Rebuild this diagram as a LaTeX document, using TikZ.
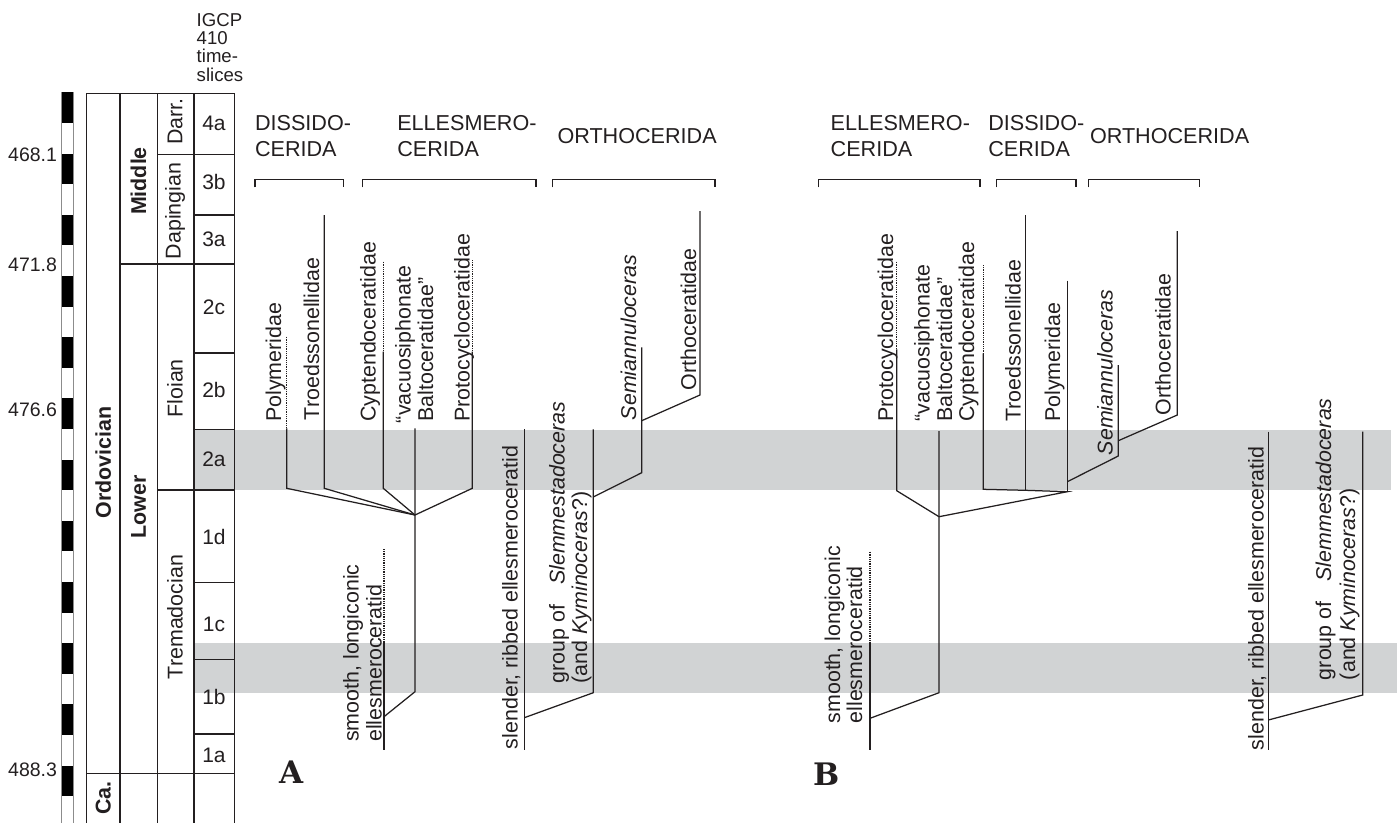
\documentclass[tikz,border=0pt]{standalone}
\usepackage{fontspec}
\newfontfamily\arial{Liberation Sans}
\newfontfamily\slab{DejaVu Serif}
\definecolor{ink}{RGB}{35,31,32}
\definecolor{band}{RGB}{209,211,212}
\begin{document}
\begin{tikzpicture}[x=1pt,y=-1pt,
  every node/.style={inner sep=0pt, outer sep=0pt, text=ink},
  tax/.style={font=\fontsize{21.4}{25}\selectfont\arial, rotate=90, anchor=base west},
  grp/.style={font=\fontsize{21.6}{26.5}\selectfont\arial, align=left, anchor=north west},
  grp1/.style={font=\fontsize{21.6}{26.5}\selectfont\arial, anchor=base west},
  strat/.style={font=\fontsize{21.4}{25}\selectfont\arial, rotate=90, anchor=center},
  stratb/.style={font=\fontsize{21.4}{25}\selectfont\arial\bfseries, rotate=90, anchor=center},
  ts/.style={font=\fontsize{21}{24}\selectfont\arial, anchor=center},
  age/.style={font=\fontsize{19.5}{22}\selectfont\arial, anchor=base east},
  col/.style={line width=1.1pt, draw=ink},
  colb/.style={line width=1.6pt, draw=ink},
  br/.style={line width=1.25pt, draw=ink},
  dot/.style={line width=1.1pt, draw=ink, dash pattern=on 1pt off 0.8pt},
  lbl/.style={font=\fontsize{31}{36}\selectfont\slab\bfseries, anchor=base west},
]
\useasboundingbox (0,0) rectangle (1397,823);
\fill[white] (0,0) rectangle (1397,823);

% grey time bands
\fill[band] (193.7,429.5) rectangle (1391,490.3);
\fill[band] (193.7,642.5) rectangle (1397,692.5);

% scale bar
\fill[white] (61,92.3) rectangle (73,823);
\foreach \k in {0,...,11} {
  \fill[black] (61,{92.3+61.2*\k}) rectangle (73,{92.3+61.2*\k+30.6});
}
\draw[black!45, line width=0.8pt] (61,92.3) -- (61,823) (73,92.3) -- (73,823);

% stratigraphic columns
\draw[col] (86.7,93.3) -- (86.7,823);
\draw[col] (120,93.3) -- (120,823);
\draw[col] (157.3,93.3) -- (157.3,823);
\draw[colb] (193.7,93.3) -- (193.7,823);
\draw[col] (234.3,93.3) -- (234.3,823);
\draw[col] (86.7,93.3) -- (193.7,93.3);
\draw[colb] (193.7,93.3) -- (234.3,93.3);
\draw[col] (157.3,154.3) -- (234.3,154.3);
\draw[col] (193.7,215) -- (234.3,215);
\draw[col] (120,264) -- (234.3,264);
\draw[col] (193.7,353) -- (234.3,353);
\draw[col] (193.7,429.3) -- (234.3,429.3);
\draw[col] (157.3,490) -- (234.3,490);
\draw[col] (193.7,582.7) -- (234.3,582.7);
\draw[col] (193.7,659.3) -- (234.3,659.3);
\draw[col] (193.7,734) -- (234.3,734);
\draw[col] (86.7,773.7) -- (234.3,773.7);

% column texts
\node[stratb] (ord) at (103.3,462.5) {Ordovician};
\node[stratb] (ca) at (103.3,798) {Ca.};
\node[stratb] (mid) at (138.5,181) {Middle};
\node[stratb] (low) at (138.5,506.7) {Lower};
\node[strat] (darr) at (175,121.7) {Darr.};
\node[strat] (dap) at (175,211) {Dapingian};
\node[strat] (flo) at (175,388.3) {Floian};
\node[strat] (tre) at (175,617) {Tremadocian};
\node[ts] (t4a) at (214,123.3) {4a};
\node[ts] (t3b) at (214,182) {3b};
\node[ts] (t3a) at (214,239.2) {3a};
\node[ts] (t2c) at (214,307.5) {2c};
\node[ts] (t2b) at (214,390) {2b};
\node[ts] (t2a) at (214,459) {2a};
\node[ts] (t1d) at (214,537) {1d};
\node[ts] (t1c) at (214,624) {1c};
\node[ts] (t1b) at (214,697) {1b};
\node[ts] (t1a) at (214,755.8) {1a};
\node[font=\fontsize{18.6}{18.3}\selectfont\arial, align=left, anchor=north west] (igcp) at (196.7,13.4) {IGCP\\410\\time-\\slices};
\node[age] (a1) at (57,161.5) {468.1};
\node[age] (a2) at (57,271.5) {471.8};
\node[age] (a3) at (57,416.5) {476.6};
\node[age] (a4) at (57,776) {488.3};

% group headings
\node[grp] (hA1) at (255,115.3) {DISSIDO-\\CERIDA};
\node[grp] (hA2) at (397.3,115.3) {ELLESMERO-\\CERIDA};
\node[grp1] (hA3) at (557.5,143.3) {ORTHOCERIDA};
\node[grp] (hB1) at (830.7,115.3) {ELLESMERO-\\CERIDA};
\node[grp] (hB2) at (988.3,115.3) {DISSIDO-\\CERIDA};
\node[grp1] (hB3) at (1090,143.3) {ORTHOCERIDA};

% brackets
\draw[br] (255,187.3) -- (255,179.5) -- (343.3,179.5) -- (343.3,187.3);
\draw[br] (362.7,187.3) -- (362.7,179.5) -- (536,179.5) -- (536,187.3);
\draw[br] (552.7,187.3) -- (552.7,179.5) -- (715,179.5) -- (715,187.3);
\draw[br] (818.3,187.3) -- (818.3,179.5) -- (980,179.5) -- (980,187.3);
\draw[br] (996.7,187.3) -- (996.7,179.5) -- (1076,179.5) -- (1076,187.3);
\draw[br] (1088.3,187.3) -- (1088.3,179.5) -- (1199.3,179.5) -- (1199.3,187.3);

% ---------- tree A ----------
\coordinate (pAt) at (286.7,336.7);
\coordinate (pAs) at (286.7,428.3);
\coordinate (pAb) at (286.7,488.3);
\coordinate (tAt) at (324.3,215);
\coordinate (tAb) at (324.3,488.3);
\coordinate (cAt) at (383.3,261.7);
\coordinate (cAs) at (383.3,351.7);
\coordinate (cAb) at (383.3,488.3);
\coordinate (prAt) at (472.3,260);
\coordinate (prAs) at (472.3,351.7);
\coordinate (prAb) at (472.3,488.3);
\coordinate (vAt) at (415,428.3);
\coordinate (jA) at (415,515);
\coordinate (vAb) at (415,691.7);
\coordinate (sAt) at (384,549);
\coordinate (sAs) at (384,641.7);
\coordinate (sAj) at (384,716.7);
\coordinate (sAb) at (384,750);
\coordinate (slAt) at (524.3,429.3);
\coordinate (slAj) at (524.3,717.7);
\coordinate (slAb) at (524.3,750);
\coordinate (gAt) at (593.3,429.3);
\coordinate (gAj) at (593.3,497);
\coordinate (gAb) at (593.3,692.7);
\coordinate (smAt) at (641.7,347.3);
\coordinate (smAj) at (641.7,420.7);
\coordinate (smAb) at (641.7,472.7);
\coordinate (oAt) at (700,211);
\coordinate (oAb) at (700,395);

\draw[dot] (pAt) -- (pAs);
\draw[br] (pAs) -- (pAb) -- (jA);
\draw[br] (tAt) -- (tAb) -- (jA);
\draw[dot] (cAt) -- (cAs);
\draw[br] (cAs) -- (cAb) -- (jA);
\draw[dot] (prAt) -- (prAs);
\draw[br] (prAs) -- (prAb) -- (jA);
\draw[br] (vAt) -- (vAb) -- (sAj);
\draw[dot] (sAt) -- (sAs);
\draw[br] (sAs) -- (sAb);
\draw[br] (slAt) -- (slAb);
\draw[br] (slAj) -- (gAb) -- (gAt);
\draw[br] (gAj) -- (smAb) -- (smAt);
\draw[br] (smAj) -- (oAb) -- (oAt);

\node[tax] (LpA) at (281,421.7) {Polymeridae};
\node[tax] (LtA) at (319,420) {Troedssonellidae};
\node[tax] (LcA) at (375.5,421.7) {Cyptendoceratidae};
\node[tax] (LvA1) at (410.5,423) {“vacuosiphonate};
\node[tax] (LvA2) at (433,421.7) {Baltoceratidae”};
\node[tax] (LprA) at (469.5,421.7) {Protocycloceratidae};
\node[tax] (LsA1) at (358.5,741.7) {smooth, longiconic};
\node[tax] (LsA2) at (381.5,741.7) {ellesmeroceratid};
\node[tax] (LslA) at (517.5,749) {slender, ribbed ellesmeroceratid};
\node[tax] (LgA1) at (564.5,683.3) {group of\hspace{14pt} \textit{Slemmestadoceras}};
\node[tax] (LgA2) at (587,683.3) {(and \textit{Kyminoceras}?)};
\node[tax] (LsmA) at (636,420) {\textit{Semiannuloceras}};
\node[tax] (LoA) at (696,390) {Orthoceratidae};

% ---------- tree B ----------
\coordinate (prBt) at (896.7,261.7);
\coordinate (prBs) at (896.7,349.3);
\coordinate (prBb) at (896.7,490.7);
\coordinate (vBt) at (939,431);
\coordinate (jB) at (939,516.7);
\coordinate (vBb) at (939,692.7);
\coordinate (cBt) at (983.3,265);
\coordinate (cBs) at (983.3,353.3);
\coordinate (cBb) at (983.3,489.3);
\coordinate (tBt) at (1025.7,215);
\coordinate (tBb) at (1025.7,490.3);
\coordinate (pBt) at (1067.3,280.7);
\coordinate (pBj) at (1067.3,481.7);
\coordinate (pBb) at (1067.3,491.7);
\coordinate (smBt) at (1118.3,365);
\coordinate (smBj) at (1118.3,440.7);
\coordinate (smBb) at (1118.3,456);
\coordinate (oBt) at (1177.3,231);
\coordinate (oBb) at (1177.3,415);
\coordinate (sBt) at (870,551.7);
\coordinate (sBs) at (870,643.3);
\coordinate (sBj) at (870,718.3);
\coordinate (sBb) at (870,750);
\coordinate (slBt) at (1268.3,431.7);
\coordinate (slBj) at (1268.3,720);
\coordinate (slBb) at (1268.3,750);
\coordinate (gBt) at (1362.7,431.7);
\coordinate (gBb) at (1362.7,695);

\draw[dot] (prBt) -- (prBs);
\draw[br] (prBs) -- (prBb) -- (jB);
\draw[br] (vBt) -- (vBb) -- (sBj);
\draw[dot] (sBt) -- (sBs);
\draw[br] (sBs) -- (sBb);
\draw[dot] (cBt) -- (cBs);
\draw[br] (cBs) -- (cBb) -- (tBb) -- (pBb) -- (jB);
\draw[br] (tBt) -- (tBb);
\draw[br] (pBt) -- (pBb);
\draw[br] (pBj) -- (smBb) -- (smBt);
\draw[br] (smBj) -- (oBb) -- (oBt);
\draw[br] (slBt) -- (slBb);
\draw[br] (slBj) -- (gBb) -- (gBt);

\node[tax] (LprB) at (893,421.7) {Protocycloceratidae};
\node[tax] (LvB1) at (929.5,421.7) {“vacuosiphonate};
\node[tax] (LvB2) at (952,421.7) {Baltoceratidae”};
\node[tax] (LcB) at (974,421.7) {Cyptendoceratidae};
\node[tax] (LtB) at (1020.5,421.7) {Troedssonellidae};
\node[tax] (LpB) at (1060,421.7) {Polymeridae};
\node[tax] (LsmB) at (1112.5,455) {\textit{Semiannuloceras}};
\node[tax] (LoB) at (1170.5,415) {Orthoceratidae};
\node[tax] (LsB1) at (840,723.3) {smooth, longiconic};
\node[tax] (LsB2) at (862,723.3) {ellesmeroceratid};
\node[tax] (LslB) at (1263.5,750) {slender, ribbed ellesmeroceratid};
\node[tax] (LgB1) at (1331,680) {group of\hspace{14pt} \textit{Slemmestadoceras}};
\node[tax] (LgB2) at (1355,680) {(and \textit{Kyminoceras}?)};

% panel letters
\node[lbl] (labA) at (279,783.3) {A};
\node[lbl] (labB) at (813,785) {B};
\end{tikzpicture}
\end{document}
